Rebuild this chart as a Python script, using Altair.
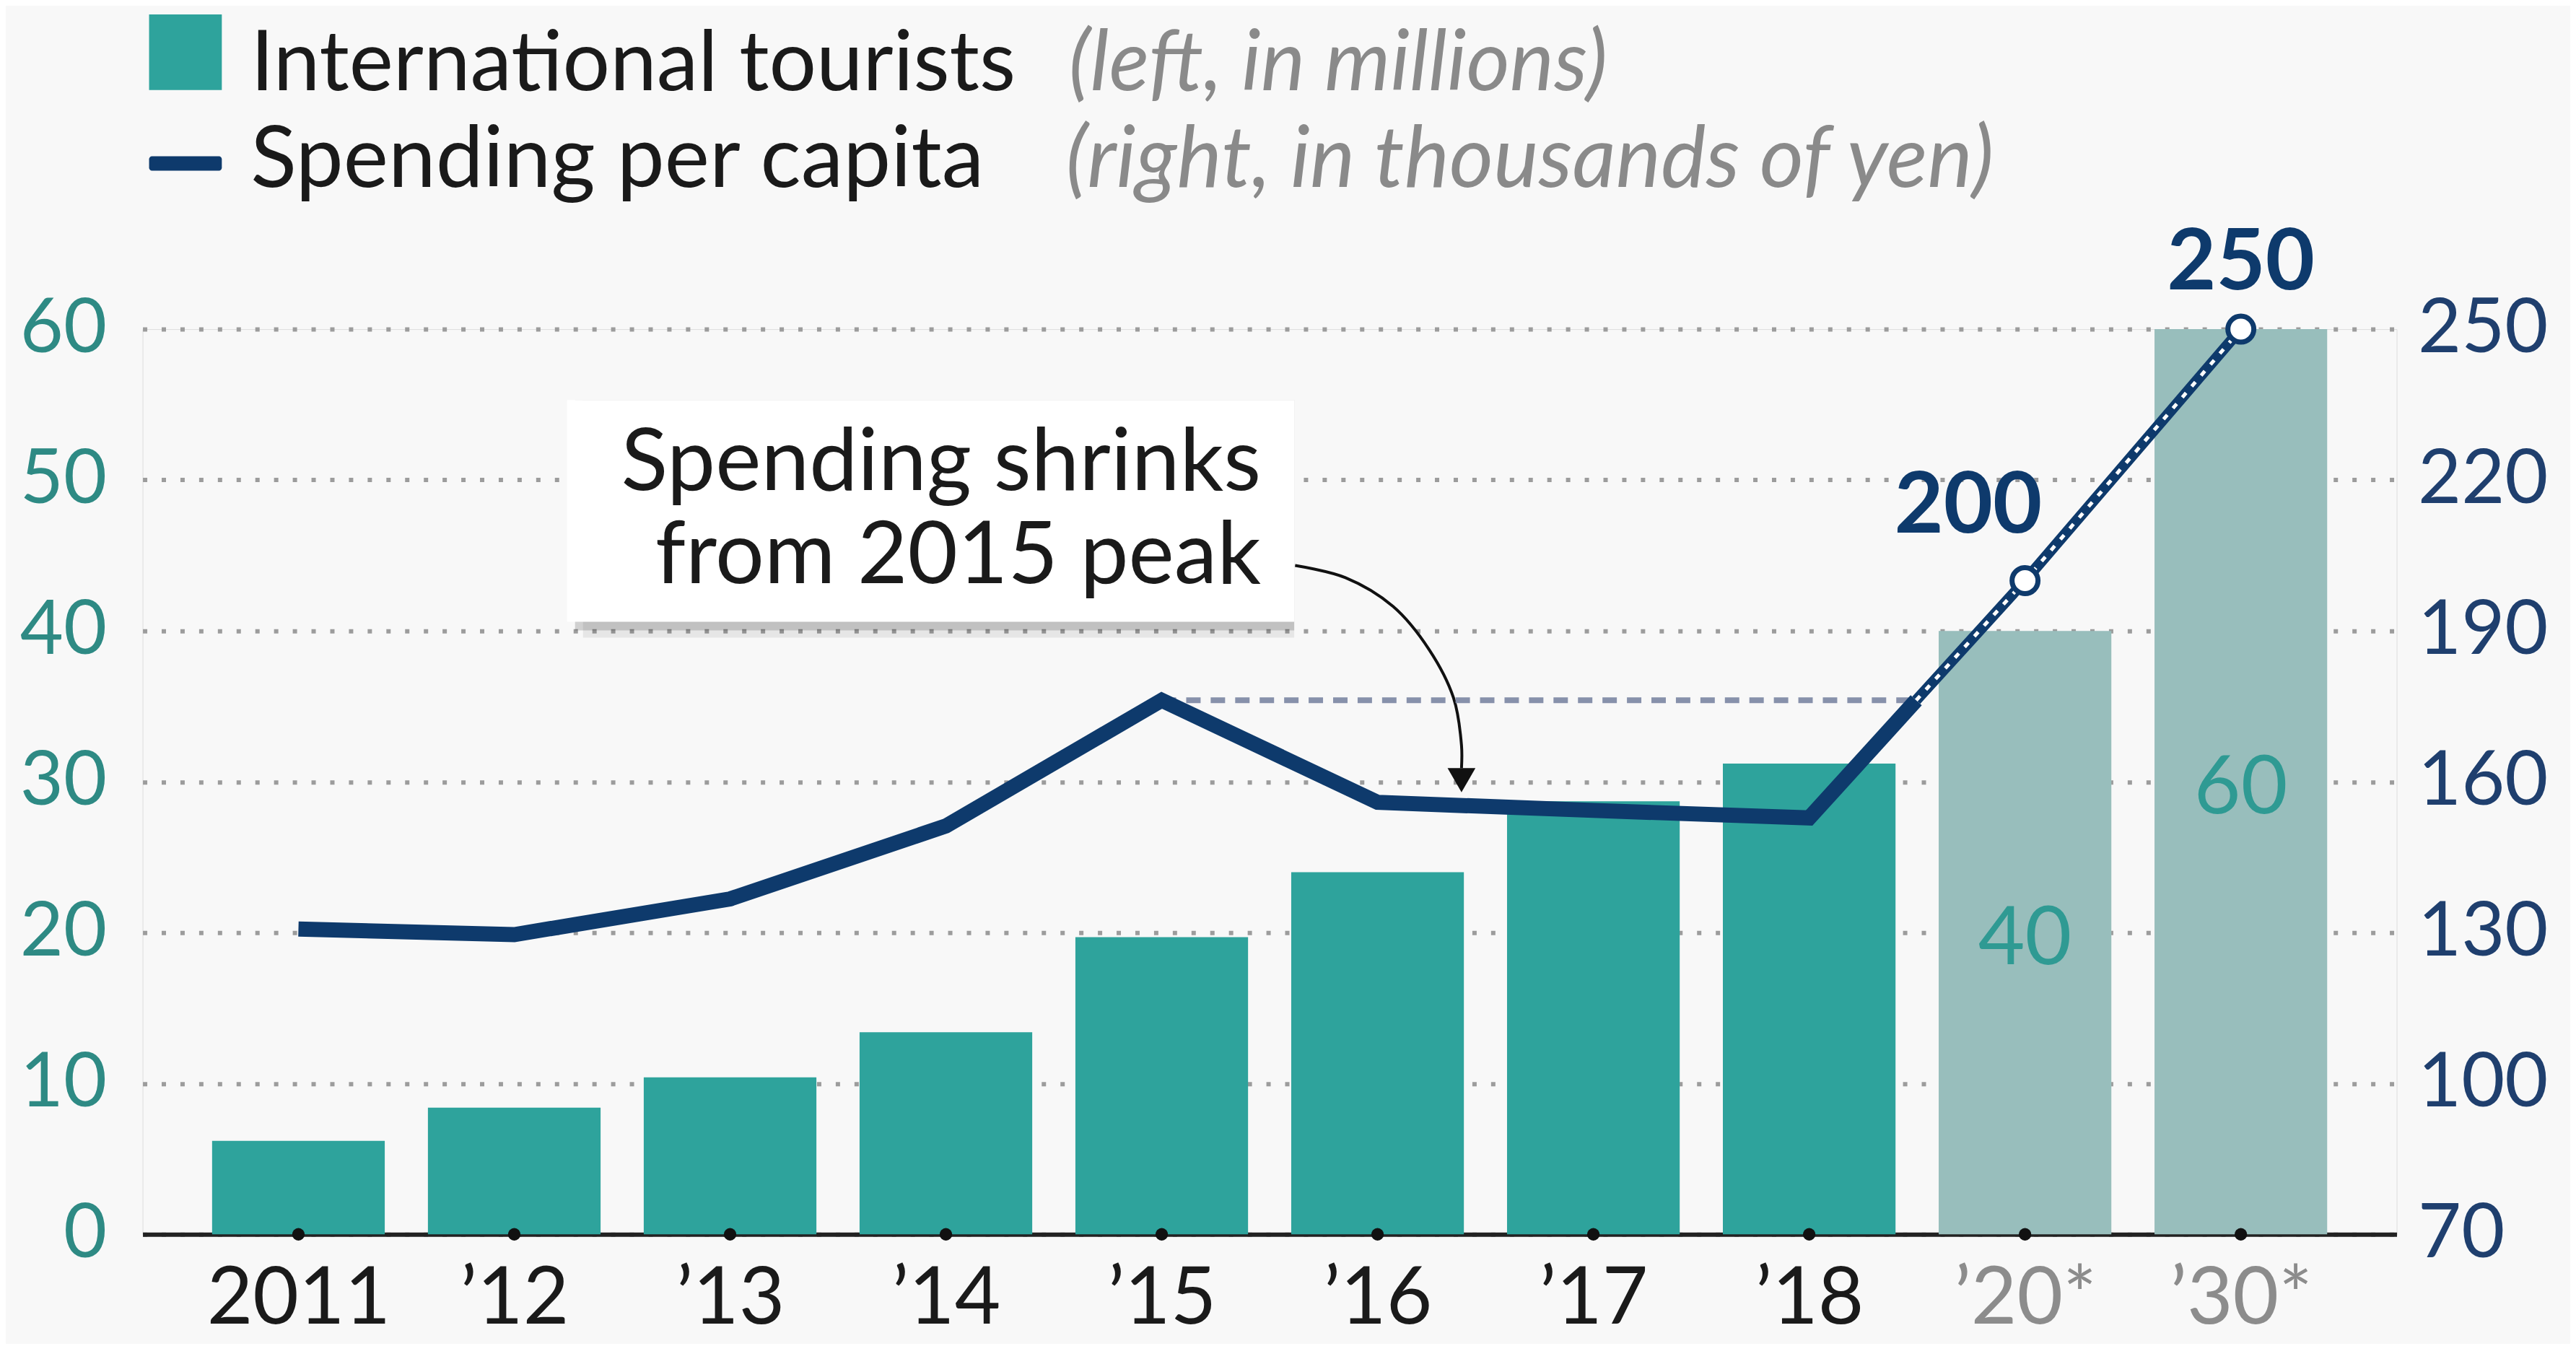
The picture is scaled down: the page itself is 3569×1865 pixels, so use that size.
import json
import altair as alt
import pandas as pd

# ---------------- data ----------------
labels = ["2011", "\u201912", "\u201913", "\u201914", "\u201915", "\u201916", "\u201917", "\u201918", "\u201920*", "\u201930*"]
tourists = [6.2, 8.4, 10.4, 13.4, 19.7, 24.0, 28.7, 31.2, 40, 60]          # millions (left)
spending = [130.7, 129.6, 136.7, 151.2, 176.2, 155.9, 154.3, 152.8, 200, 250]  # thousand yen (right)
status = ["Actual"] * 8 + ["Target"] * 2

left_ticks = [0, 10, 20, 30, 40, 50, 60]
right_ticks = [70, 100, 130, 160, 190, 220, 250]

# annotation placement (data units: x = year index, y = left axis)
box = {"x0": 1.245, "x1": 4.614, "y0": 40.6, "y1": 55.3}
box_text = {"x": 4.46, "y": 49.35, "text": "Spending shrinks\nfrom 2015 peak"}
arrow_i = [4.618, 4.851, 5.072, 5.239, 5.352, 5.389, 5.389]
arrow_v = [44.34, 43.53, 41.62, 38.76, 35.56, 32.41, 30.9]
arrow_head = {"x": 5.389, "y": 30.1}

TEAL = "#2ea39c"
TEAL_LIGHT = "#98bebc"
NAVY = "#0e3a6c"
FONT = "Lato"

n = len(labels)
df = pd.DataFrame({"i": list(range(n)), "label": labels, "tourists": tourists,
                   "spend": spending, "status": status})

# derived positions of the projection segment / 2015 peak reference
peak = max(spending[:8])
peak_i = spending.index(peak)
t = (peak - spending[7]) / (spending[8] - spending[7])
cross_x = 7 + t

X_DOMAIN = [-0.722, n - 1 + 0.722]
xscale = alt.Scale(domain=X_DOMAIN, nice=False, zero=False)
yl = alt.Scale(domain=[0, 60], nice=False, zero=False)
yr = alt.Scale(domain=[70, 250], nice=False, zero=False)

xaxis = alt.Axis(
    values=list(range(n)),
    labelExpr=json.dumps(labels) + "[datum.value]",
    title=None, grid=False, ticks=False, domain=True,
    domainColor="#222222", domainWidth=6,
    labelFont=FONT, labelFontSize=110, labelLimit=500,
    labelColor={"condition": {"test": "datum.value >= 8", "value": "#8c8c8c"}, "value": "#1a1a1a"},
    labelBaseline="alphabetic", labelPadding=124, labelFlush=False, labelOverlap=False,
)
yaxis_left = alt.Axis(
    orient="left", values=left_ticks, title=None, domain=False, ticks=False,
    grid=True, gridColor="#9c9c9c", gridDash=[6, 20], gridWidth=6,
    labelFont=FONT, labelFontSize=104, labelColor="#2e8a84", labelLimit=500,
    labelPadding=50, labelFlush=False,
)
yaxis_right = alt.Axis(
    orient="right", values=right_ticks, title=None, domain=False, ticks=False, grid=False,
    labelFont=FONT, labelFontSize=104, labelColor="#1f3f6e", labelLimit=500,
    labelPadding=29, labelFlush=False,
)

X = lambda f: alt.X(f, scale=xscale, axis=None)
YL = lambda f: alt.Y(f, scale=yl, axis=None)
YR = lambda f: alt.Y(f, scale=yr, axis=None)

base = alt.Chart(df)

# ---------------- left-axis marks ----------------
bars = base.mark_bar().transform_calculate(
    x0="datum.i - 0.4", x1="datum.i + 0.4"
).encode(
    x=alt.X("x0:Q", scale=xscale, axis=xaxis),
    x2="x1:Q",
    y=alt.Y("tourists:Q", scale=yl, axis=yaxis_left),
    y2=alt.datum(0),
    color=alt.Color("status:N", scale=alt.Scale(domain=["Actual", "Target"], range=[TEAL, TEAL_LIGHT]), legend=None),
)

tick_dots = base.transform_calculate(zero="0").mark_circle(color="#111111", opacity=1, size=300).encode(
    x=X("i:Q"), y=YL("zero:Q"))

bar_labels = base.transform_filter("datum.status == 'Target'").transform_calculate(
    half="datum.tourists / 2"
).mark_text(font=FONT, fontSize=112, color="#2f9a93", baseline="middle", align="center", dy=10).encode(
    x=X("i:Q"), y=YL("half:Q"), text=alt.Text("tourists:Q", format="d")
)

box_df = pd.DataFrame([box])
shadow2 = alt.Chart(box_df).mark_rect(color="#000000", opacity=0.07, xOffset=22, yOffset=22).encode(
    x=X("x0:Q"), x2="x1:Q", y=YL("y0:Q"), y2="y1:Q")
shadow1 = alt.Chart(box_df).mark_rect(color="#000000", opacity=0.16, xOffset=11, yOffset=12).encode(
    x=X("x0:Q"), x2="x1:Q", y=YL("y0:Q"), y2="y1:Q")
box_rect = alt.Chart(box_df).mark_rect(color="#ffffff").encode(
    x=X("x0:Q"), x2="x1:Q", y=YL("y0:Q"), y2="y1:Q")
box_label = alt.Chart(pd.DataFrame([box_text])).mark_text(
    font=FONT, fontSize=120, color="#1a1a1a", align="right", baseline="alphabetic",
    lineBreak="\n", lineHeight=130,
).encode(x=X("x:Q"), y=YL("y:Q"), text="text:N")

arrow_df = pd.DataFrame({"k": list(range(len(arrow_i))), "x": arrow_i, "y": arrow_v})
arrow_line = alt.Chart(arrow_df).mark_line(color="#111111", strokeWidth=4, interpolate="catmull-rom").encode(
    x=X("x:Q"), y=YL("y:Q"), order="k:Q")
arrow_tip = alt.Chart(pd.DataFrame([arrow_head])).mark_point(
    shape="triangle-down", filled=True, color="#111111", opacity=1, size=1500).encode(
    x=X("x:Q"), y=YL("y:Q"))

# legend (drawn as swatch/text marks above the plot)
one = pd.DataFrame({"a": [0]})
leg_sq = alt.Chart(one).mark_rect(color=TEAL).encode(
    x=alt.value(9), x2=alt.value(110), y=alt.value(-437), y2=alt.value(-332))
leg_dash = alt.Chart(one).mark_rect(color=NAVY, cornerRadius=4).encode(
    x=alt.value(9), x2=alt.value(110), y=alt.value(-240), y2=alt.value(-220))
leg_t1 = alt.Chart(one).mark_text(font=FONT, fontSize=116, color="#1a1a1a", align="left", baseline="alphabetic").encode(
    x=alt.value(150), y=alt.value(-332), text=alt.value("International tourists"))
leg_t1i = alt.Chart(one).mark_text(font=FONT, fontSize=116, fontStyle="italic", color="#8a8a8a", align="left", baseline="alphabetic").encode(
    x=alt.value(1286), y=alt.value(-332), text=alt.value("(left, in millions)"))
leg_t2 = alt.Chart(one).mark_text(font=FONT, fontSize=118, color="#1a1a1a", align="left", baseline="alphabetic").encode(
    x=alt.value(150), y=alt.value(-198), text=alt.value("Spending per capita"))
leg_t2i = alt.Chart(one).mark_text(font=FONT, fontSize=118, fontStyle="italic", color="#8a8a8a", align="left", baseline="alphabetic").encode(
    x=alt.value(1282), y=alt.value(-198), text=alt.value("(right, in thousands of yen)"))

# ---------------- right-axis marks ----------------
ref_df = pd.DataFrame({"x": [peak_i], "x2": [cross_x], "y": [peak]})
ref_rule = alt.Chart(ref_df).mark_rule(color="#8791ab", strokeWidth=8, strokeDash=[20, 14]).encode(
    x=alt.X("x:Q", scale=xscale, axis=None), x2="x2:Q",
    y=alt.Y("y:Q", scale=yr, axis=yaxis_right))

solid_df = pd.DataFrame({"i": list(range(8)) + [cross_x], "spend": spending[:8] + [peak]})
solid_line = alt.Chart(solid_df).mark_line(color=NAVY, strokeWidth=21, strokeJoin="miter").encode(
    x=X("i:Q"), y=YR("spend:Q"))

proj_df = pd.DataFrame({"i": [cross_x, 8, 9], "spend": [peak, spending[8], spending[9]]})
proj_line = alt.Chart(proj_df).mark_line(color=NAVY, strokeWidth=15).encode(
    x=X("i:Q"), y=YR("spend:Q"))
proj_dash = alt.Chart(proj_df).mark_line(color="#ffffff", strokeWidth=5, strokeDash=[8, 12]).encode(
    x=X("i:Q"), y=YR("spend:Q"))

target = base.transform_filter("datum.status == 'Target'")
target_pts = target.mark_point(shape="circle", filled=True, fill="#ffffff", stroke=NAVY,
                               strokeWidth=7, size=1300, opacity=1).encode(
    x=X("i:Q"), y=YR("spend:Q"))
lab200 = base.transform_filter("datum.i == 8").mark_text(
    font=FONT, fontWeight="bold", fontSize=118, color=NAVY, align="center", baseline="alphabetic",
    dx=-79, dy=-67).encode(x=X("i:Q"), y=YR("spend:Q"), text=alt.Text("spend:Q", format="d"))
lab250 = base.transform_filter("datum.i == 9").mark_text(
    font=FONT, fontWeight="bold", fontSize=118, color=NAVY, align="center", baseline="alphabetic",
    dx=0, dy=-55).encode(x=X("i:Q"), y=YR("spend:Q"), text=alt.Text("spend:Q", format="d"))

chart = alt.layer(
    bars, tick_dots, bar_labels, shadow2, shadow1, box_rect, box_label,
    arrow_line, arrow_tip, leg_sq, leg_dash, leg_t1, leg_t1i, leg_t2, leg_t2i,
    ref_rule, solid_line, proj_line, proj_dash, target_pts, lab200, lab250,
).resolve_scale(x="independent", y="independent").properties(
    width=3130, height=1257,
    autosize=alt.AutoSizeParams(type="none"),
    padding={"left": 190, "top": 447, "right": 241, "bottom": 150},
    background="#f8f8f8",
).configure_view(strokeWidth=0, stroke="transparent").configure(font=FONT)

chart.save("out.html", embed_options={"renderer": "svg", "actions": False})
